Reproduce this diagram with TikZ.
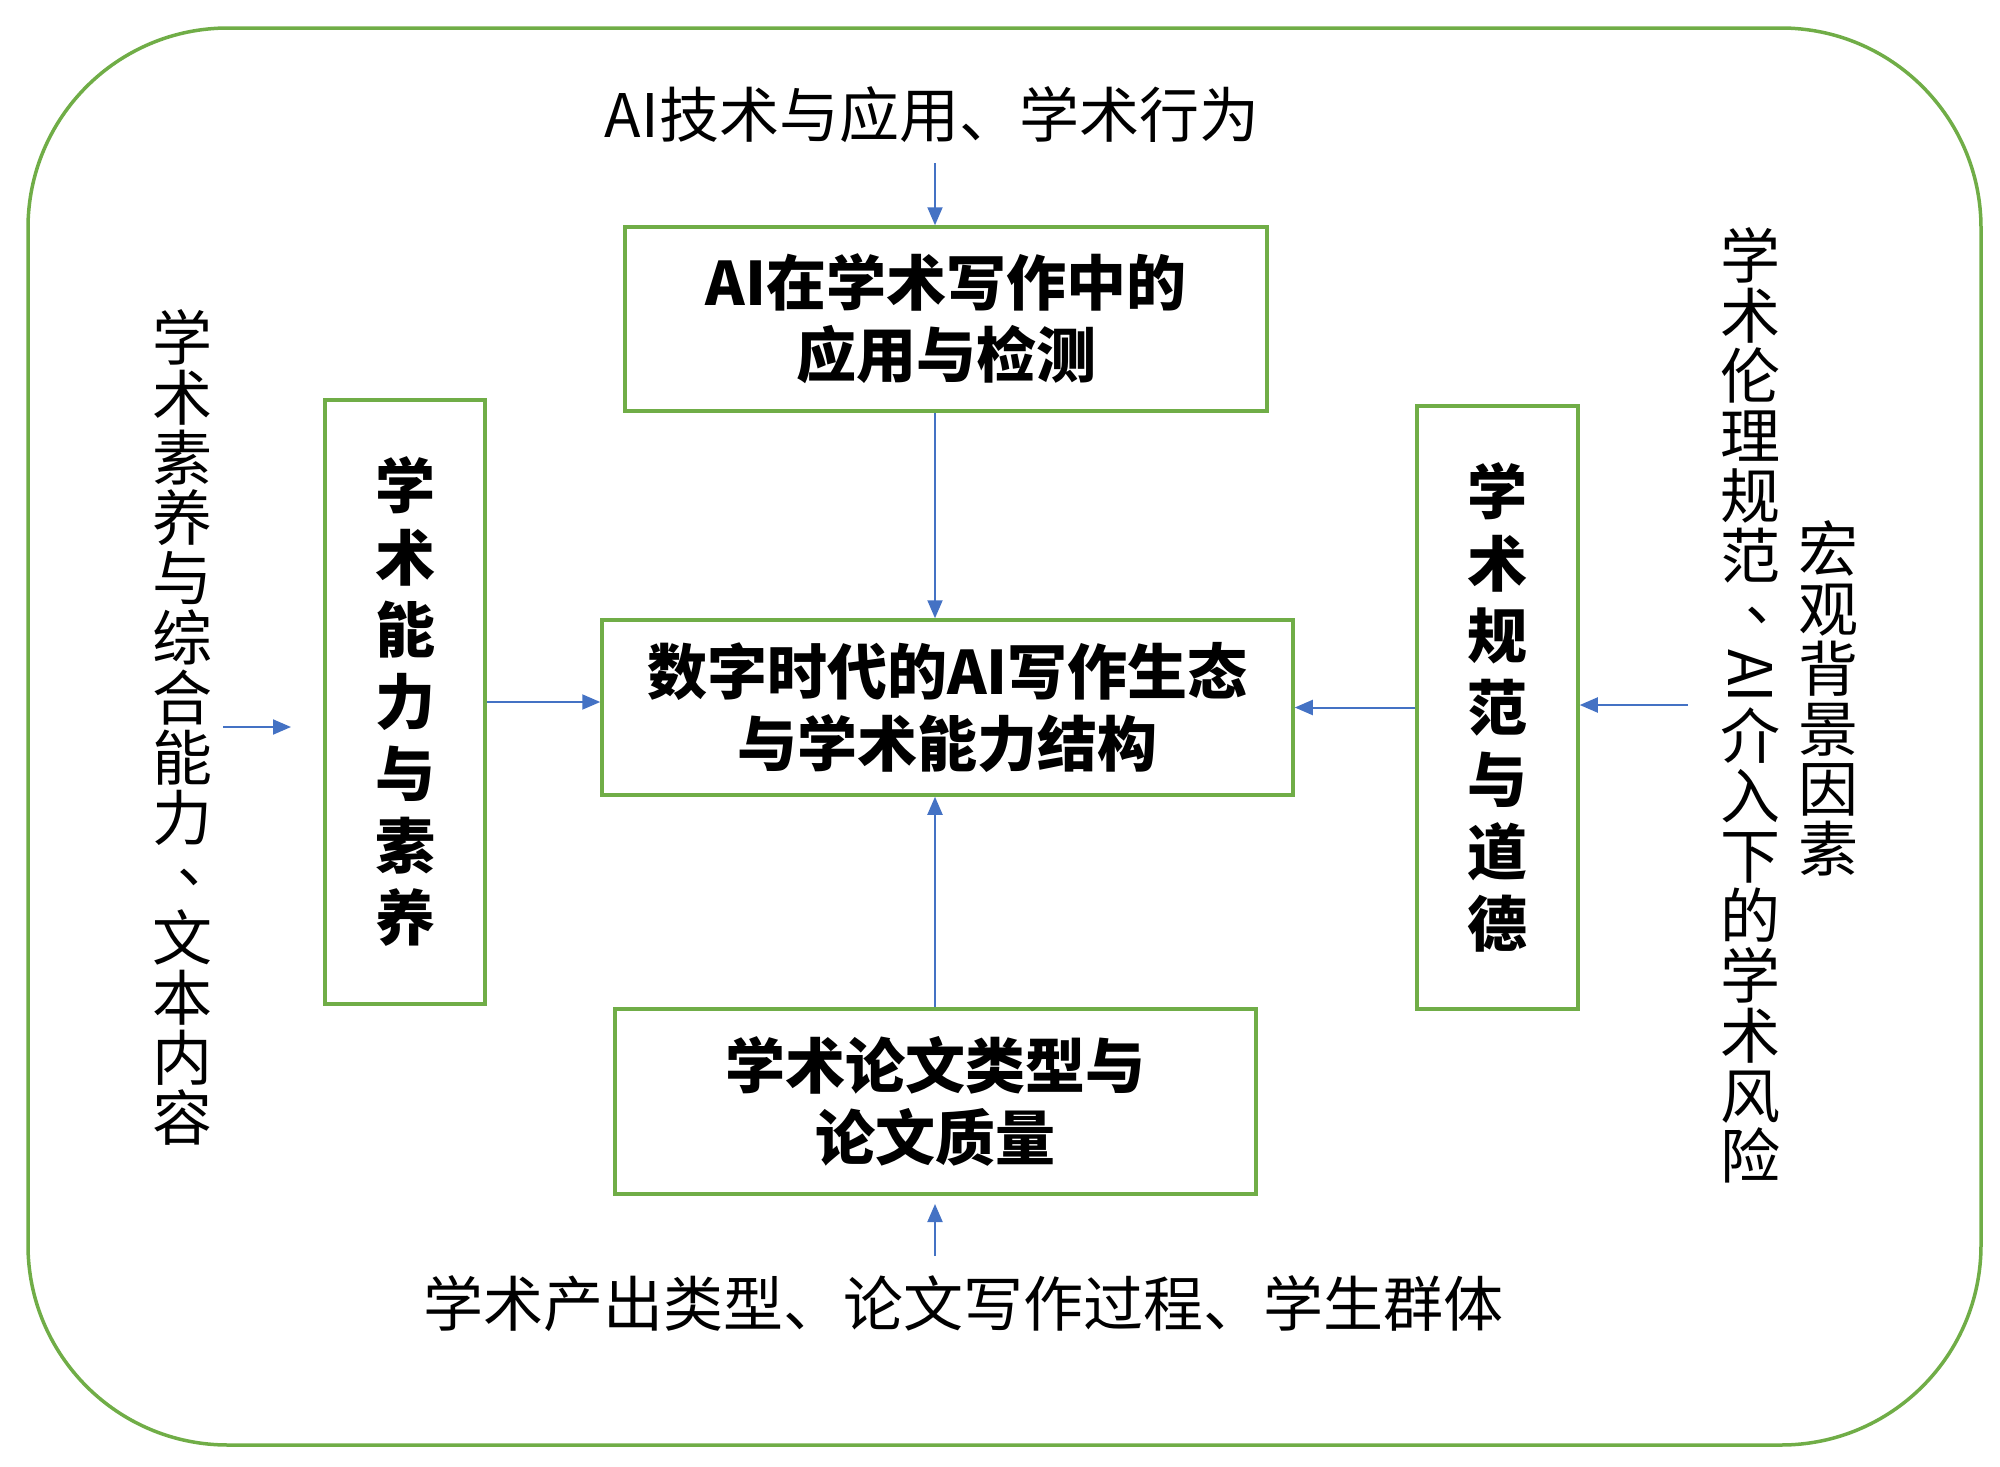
\documentclass[tikz,border=0pt]{standalone}
\usepackage{fontspec}
\usepackage{graphicx}
\setmainfont{Noto Sans CJK SC}
\usetikzlibrary{arrows.meta}
\definecolor{boxgreen}{HTML}{70AD47}
\definecolor{arrowblue}{HTML}{4472C4}
\newcommand\vcomma{\makebox[1em][l]{\hspace*{0.42em}\raisebox{0.3em}{、}}}
\tikzset{
  greenbox/.style={draw=boxgreen, line width=3.5pt, inner sep=0pt, align=center,
    font=\fontsize{60}{72}\selectfont\bfseries},
  plaintext/.style={inner sep=0pt, align=center, font=\fontsize{60}{60}\selectfont},
  vtext/.style={inner sep=0pt, align=center, font=\fontsize{60}{60}\selectfont},
  conn/.style={draw=arrowblue, line width=2pt,
    -{Triangle[length=18pt,width=15pt]}, arrowblue}
}
\begin{document}
\begin{tikzpicture}[x=1pt,y=-1pt]
\useasboundingbox (0,0) rectangle (2000,1467);
\draw[boxgreen, line width=3.5pt, rounded corners=200pt] (28,28) rectangle (1981,1445);

\node[plaintext] (toptext) at (932,115) {AI技术与应用、学术行为};
\node[plaintext] (bottext) at (963,1304) {学术产出类型、论文写作过程、学生群体};

\node[greenbox, minimum width=642pt, minimum height=184pt] (box1) at (946,319) {AI在学术写作中的\\应用与检测};
\node[greenbox, minimum width=691pt, minimum height=175pt] (center) at (947.5,707.5) {数字时代的AI写作生态\\与学术能力结构};
\node[greenbox, minimum width=641pt, minimum height=185pt] (bot) at (935.5,1101.5) {学术论文类型与\\论文质量};
\node[greenbox, minimum width=160pt, minimum height=604pt] (lbox) at (405,702) {学\\术\\能\\力\\与\\素\\养};
\node[greenbox, minimum width=161pt, minimum height=603pt] (rbox) at (1497.5,707.5) {学\\术\\规\\范\\与\\道\\德};

\node[vtext] (ltext) at (182,727) {学\\术\\素\\养\\与\\综\\合\\能\\力\\\vcomma\\文\\本\\内\\容};
\node[vtext] (rtext1) at (1750,705) {学\\术\\伦\\理\\规\\范\\\vcomma\\\rotatebox[origin=c]{-90}{AI}\\介\\入\\下\\的\\学\\术\\风\\险};
\node[vtext] (rtext2) at (1828,698) {宏\\观\\背\\景\\因\\素};

\coordinate (topstart) at (935,163);
\coordinate (botstart) at (935,1256);
\coordinate (botend) at (935,1204);
\coordinate (lstart) at (223,727);
\coordinate (lend) at (291,727);
\coordinate (rstart) at (1688,705);

\draw[conn] (topstart) -- (box1.north -| topstart);
\draw[conn] (box1.south -| topstart) -- (center.north -| topstart);
\draw[conn] (bot.north -| topstart) -- (center.south -| topstart);
\draw[conn] (botstart) -- (botend);
\draw[conn] (lstart) -- (lend);
\draw[conn] (lbox.east) -- (center.west |- lbox.east);
\draw[conn] (rbox.west) -- (center.east |- rbox.west);
\draw[conn] (rstart) -- (rbox.east |- rstart);
\end{tikzpicture}
\end{document}
